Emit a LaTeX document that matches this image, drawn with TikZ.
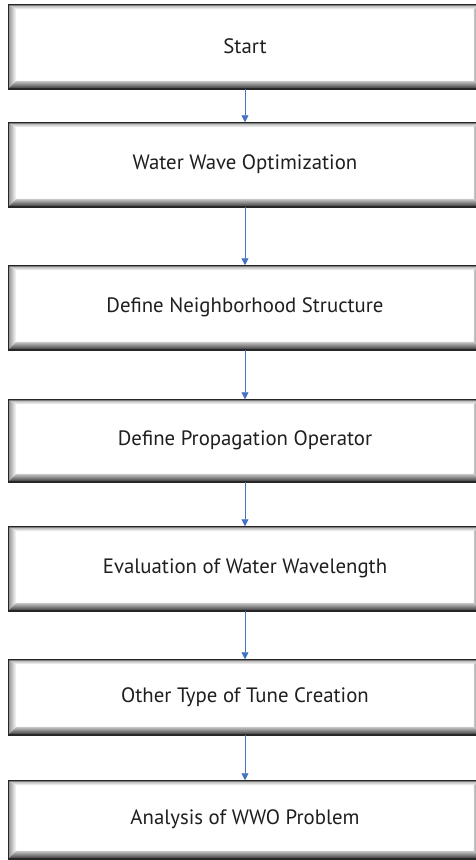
\documentclass[tikz,border=0pt]{standalone}
\usepackage{fontspec}
\setmainfont{PT Sans}
\usetikzlibrary{arrows.meta}
\definecolor{flowblue}{RGB}{68,114,196}
\tikzset{
  bevelbox/.style={draw=black!85, line width=1.5pt, fill=white, minimum width=472pt,
    inner sep=0pt, font=\fontsize{20.8}{24}\selectfont, text=black!88},
  flow/.style={draw=flowblue, line width=0.9pt, -{Triangle[width=7pt,length=7pt]}}
}
\begin{document}
\begin{tikzpicture}[x=1pt,y=-1pt]
\useasboundingbox (0,0) rectangle (475,860);
\node[bevelbox, minimum height=83pt] (n1) at (245,46.5) {Start};
\node[bevelbox, minimum height=83pt] (n2) at (245,164.5) {Water Wave Optimization};
\node[bevelbox, minimum height=83pt] (n3) at (245,307.5) {Define Neighborhood Structure};
\node[bevelbox, minimum height=81pt] (n4) at (245,440.5) {Define Propagation Operator};
\node[bevelbox, minimum height=83pt] (n5) at (245,568.5) {Evaluation of Water Wavelength};
\node[bevelbox, minimum height=74pt] (n6) at (245,697) {Other Type of Tune Creation};
\node[bevelbox, minimum height=77pt] (n7) at (245,819.5) {Analysis of WWO Problem};
% bevelled frame inside each box
\foreach \n in {n1,n2,n3,n4,n5,n6,n7}{
  \coordinate (a) at ([shift={(1pt,1pt)}]\n.south west);
  \coordinate (b) at ([shift={(-1pt,1pt)}]\n.south east);
  \coordinate (c) at ([shift={(-1pt,-1pt)}]\n.north east);
  \coordinate (d) at ([shift={(1pt,-1pt)}]\n.north west);
  \coordinate (ai) at ([shift={(8pt,8pt)}]\n.south west);
  \coordinate (bi) at ([shift={(-8pt,8pt)}]\n.south east);
  \coordinate (ci) at ([shift={(-8pt,-5pt)}]\n.north east);
  \coordinate (di) at ([shift={(8pt,-5pt)}]\n.north west);
  % top
  \shade[top color=black!30, bottom color=white] (d) -- (c) -- (ci) -- (di) -- cycle;
  % left
  \shade[left color=black!38, right color=white] (d) -- (di) -- (ai) -- (a) -- cycle;
  % right
  \shade[left color=black!22, right color=black!55] (c) -- (b) -- (bi) -- (ci) -- cycle;
  % bottom
  \shade[top color=black!20, bottom color=black!72] (ai) -- (bi) -- (b) -- (a) -- cycle;
  \draw[black!85, line width=1.5pt] (\n.south west) rectangle (\n.north east);
}
\draw[flow] (n1) -- (n2);
\draw[flow] (n2) -- (n3);
\draw[flow] (n3) -- (n4);
\draw[flow] (n4) -- (n5);
\draw[flow] (n5) -- (n6);
\draw[flow] (n6) -- (n7);
\end{tikzpicture}
\end{document}
